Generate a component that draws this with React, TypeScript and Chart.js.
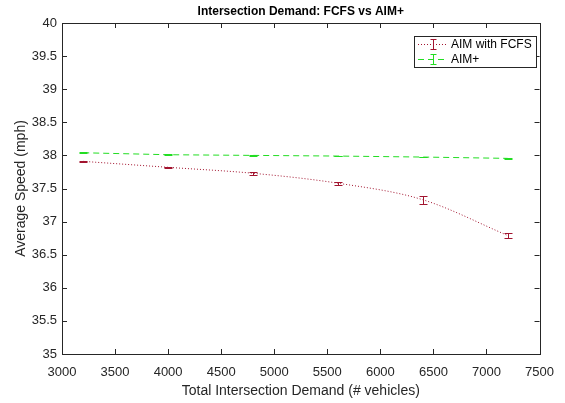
import React, { useEffect, useRef } from "react";
import { Chart, registerables } from "chart.js";

Chart.register(...registerables);

const demand = [3200, 4000, 4800, 5600, 6400, 7200];
const fcfsSpeed = [37.91, 37.82, 37.73, 37.58, 37.33, 36.79];
const fcfsErr = [0.012, 0.012, 0.02, 0.022, 0.06, 0.04];
const aimSpeed = [38.04, 38.01, 38.0, 37.99, 37.975, 37.955];
const aimErr = [0.008, 0.006, 0.006, 0.006, 0.006, 0.006];
const xTicks = [3000, 3500, 4000, 4500, 5000, 5500, 6000, 6500, 7000, 7500];
const yTicks = [35, 35.5, 36, 36.5, 37, 37.5, 38, 38.5, 39, 39.5, 40];
const seriesNames = ["AIM with FCFS", "AIM+"];
const titleText = "Intersection Demand: FCFS vs AIM+";
const xTitle = "Total Intersection Demand (# vehicles)";
const yTitle = "Average Speed (mph)";

const RED = "#A2142F";
const GREEN = "#22DD22";
const AXIS = "#262626";
const FONT = "'Liberation Sans', Arial, sans-serif";

const errors = [fcfsErr, aimErr];

const customPlugin = {
  id: "matlabStyle",
  afterDatasetsDraw(chart: any) {
    const ctx = chart.ctx;
    const xs = chart.scales.x;
    const ys = chart.scales.y;
    chart.data.datasets.forEach((ds: any, i: number) => {
      ctx.save();
      ctx.strokeStyle = ds.borderColor;
      ctx.lineWidth = 1;
      ds.data.forEach((p: any, j: number) => {
        const x = Math.round(xs.getPixelForValue(p.x)) + 0.5;
        const yTop = Math.round(ys.getPixelForValue(p.y + errors[i][j])) + 0.5;
        const yBot = Math.round(ys.getPixelForValue(p.y - errors[i][j])) + 0.5;
        ctx.beginPath();
        ctx.moveTo(x, yTop);
        ctx.lineTo(x, yBot);
        ctx.moveTo(x - 4, yTop);
        ctx.lineTo(x + 4, yTop);
        ctx.moveTo(x - 4, yBot);
        ctx.lineTo(x + 4, yBot);
        ctx.stroke();
      });
      ctx.restore();
    });
  },
  afterDraw(chart: any) {
    const ctx = chart.ctx;
    const xs = chart.scales.x;
    const ys = chart.scales.y;
    const a = chart.chartArea;
    ctx.save();
    ctx.strokeStyle = AXIS;
    ctx.lineWidth = 1;
    ctx.strokeRect(Math.round(a.left) + 0.5, Math.round(a.top) + 0.5, Math.round(a.right - a.left), Math.round(a.bottom - a.top));
    ctx.beginPath();
    xTicks.forEach((v) => {
      const x = Math.round(xs.getPixelForValue(v)) + 0.5;
      ctx.moveTo(x, a.bottom);
      ctx.lineTo(x, a.bottom - 5);
      ctx.moveTo(x, a.top);
      ctx.lineTo(x, a.top + 5);
    });
    yTicks.forEach((v) => {
      const y = Math.round(ys.getPixelForValue(v)) + 0.5;
      ctx.moveTo(a.left, y);
      ctx.lineTo(a.left + 5, y);
      ctx.moveTo(a.right, y);
      ctx.lineTo(a.right - 5, y);
    });
    ctx.stroke();

    ctx.fillStyle = "#000";
    ctx.font = `bold 12px ${FONT}`;
    ctx.textAlign = "center";
    ctx.textBaseline = "middle";
    ctx.fillText(titleText, (a.left + a.right) / 2, 12);

    const lx = 414, ly = 36, lw = 122, lh = 31;
    ctx.fillStyle = "#fff";
    ctx.fillRect(lx, ly, lw, lh);
    ctx.strokeStyle = AXIS;
    ctx.strokeRect(lx + 0.5, ly + 0.5, lw, lh);
    const rows = [ly + 8, ly + 23];
    const colors = [RED, GREEN];
    const dashes = [[1, 2], [6, 4]];
    ctx.font = `12px ${FONT}`;
    ctx.textAlign = "left";
    rows.forEach((ry, i) => {
      ctx.strokeStyle = colors[i];
      ctx.setLineDash(dashes[i]);
      ctx.beginPath();
      ctx.moveTo(lx + 4, ry + 0.5);
      ctx.lineTo(lx + 34, ry + 0.5);
      ctx.stroke();
      ctx.setLineDash([]);
      const cx = lx + 19.5;
      ctx.beginPath();
      ctx.moveTo(cx, ry - 5);
      ctx.lineTo(cx, ry + 5);
      ctx.moveTo(cx - 3, ry - 5 + 0.5);
      ctx.lineTo(cx + 3, ry - 5 + 0.5);
      ctx.moveTo(cx - 3, ry + 5 + 0.5);
      ctx.lineTo(cx + 3, ry + 5 + 0.5);
      ctx.stroke();
      ctx.fillStyle = "#000";
      ctx.fillText(seriesNames[i], lx + 37, ry + 1);
    });
    ctx.restore();
  },
};

export default function App() {
  const ref = useRef<HTMLCanvasElement>(null);
  useEffect(() => {
    document.body.style.margin = "0";
    const canvas = ref.current!;
    const chart = new Chart(canvas, {
      type: "line",
      data: {
        datasets: [
          {
            label: seriesNames[0],
            data: demand.map((x, i) => ({ x, y: fcfsSpeed[i] })),
            borderColor: RED,
            backgroundColor: RED,
            borderWidth: 1,
            borderDash: [1, 2],
            pointRadius: 0,
            cubicInterpolationMode: "monotone",
          },
          {
            label: seriesNames[1],
            data: demand.map((x, i) => ({ x, y: aimSpeed[i] })),
            borderColor: GREEN,
            backgroundColor: GREEN,
            borderWidth: 1,
            borderDash: [6, 4],
            pointRadius: 0,
            tension: 0,
          },
        ],
      },
      options: {
        animation: false,
        responsive: false,
        maintainAspectRatio: false,
        layout: { padding: { top: 23, right: 23, left: 0, bottom: 0 } },
        plugins: {
          legend: { display: false },
          tooltip: { enabled: false },
          title: { display: false },
        },
        scales: {
          x: {
            type: "linear",
            min: 3000,
            max: 7500,
            afterBuildTicks: (s: any) => {
              s.ticks = xTicks.map((v) => ({ value: v }));
            },
            afterFit: (s: any) => {
              s.height = 49;
            },
            grid: { display: false, drawTicks: false },
            border: { display: false },
            ticks: {
              color: AXIS,
              font: { family: FONT, size: 13 },
              padding: 11,
              maxRotation: 0,
              autoSkip: false,
              callback: (v: any) => String(v),
            },
            title: {
              display: true,
              text: xTitle,
              color: AXIS,
              font: { family: FONT, size: 14 },
              padding: { top: 0, bottom: 3 },
            },
          },
          y: {
            type: "linear",
            min: 35,
            max: 40,
            afterBuildTicks: (s: any) => {
              s.ticks = yTicks.map((v) => ({ value: v }));
            },
            afterFit: (s: any) => {
              s.width = 62;
            },
            grid: { display: false, drawTicks: false },
            border: { display: false },
            ticks: {
              color: AXIS,
              font: { family: FONT, size: 13 },
              padding: 5,
              autoSkip: false,
              callback: (v: any) => String(v),
            },
            title: {
              display: true,
              text: yTitle,
              color: AXIS,
              font: { family: FONT, size: 14 },
              padding: { top: 13, bottom: 0 },
            },
          },
        },
      },
      plugins: [customPlugin],
    } as any);
    return () => chart.destroy();
  }, []);
  return (
    <div style={{ width: 565, height: 403, background: "#fff" }}>
      <canvas ref={ref} width={565} height={403} style={{ display: "block" }} />
    </div>
  );
}
